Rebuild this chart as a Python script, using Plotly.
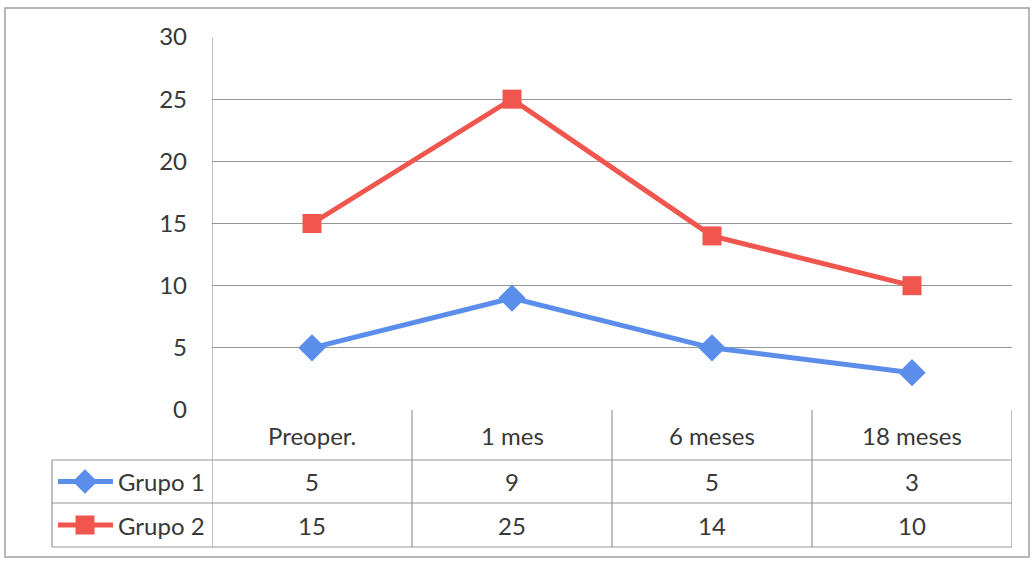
import plotly.graph_objects as go

# Chart data
categories = ["Preoper.", "1 mes", "6 meses", "18 meses"]
series_names = ["Grupo 1", "Grupo 2"]
grupo1 = [5, 9, 5, 3]
grupo2 = [15, 25, 14, 10]
y_ticks = [0, 5, 10, 15, 20, 25, 30]

W, H = 1032, 563
FONT = "Lato"
TXT = "#383838"
GRID = "#969696"
BLUE = "#5b8eea"
RED = "#f0564e"

# plot area in pixels
PL, PR, PT, PB = 212, 1012, 37, 410
# table row boundaries in pixels
R1, R2, R3 = 460, 503, 547
TABLE_LEFT = 52


def px(x):
    return x / W


def py(y):
    return 1 - y / H


fig = go.Figure()

xs = list(range(len(categories)))
fig.add_trace(go.Scatter(
    x=xs, y=grupo1, mode="lines+markers", name=series_names[0],
    line=dict(color=BLUE, width=5),
    marker=dict(symbol="diamond", size=21, color=BLUE),
    xaxis="x", yaxis="y", showlegend=False,
))
fig.add_trace(go.Scatter(
    x=xs, y=grupo2, mode="lines+markers", name=series_names[1],
    line=dict(color=RED, width=5),
    marker=dict(symbol="square", size=19, color=RED),
    xaxis="x", yaxis="y", showlegend=False,
))

# legend keys inside the data table (pixel axes spanning the whole figure)
key_rows = [((R1 + R2) / 2, BLUE, "diamond", 19), ((R2 + R3) / 2, RED, "square", 19)]
for (yc, col, sym, sz) in key_rows:
    fig.add_trace(go.Scatter(
        x=[58, 113], y=[yc, yc], mode="lines", line=dict(color=col, width=5),
        xaxis="x2", yaxis="y2", showlegend=False, hoverinfo="skip",
    ))
    fig.add_trace(go.Scatter(
        x=[85], y=[yc], mode="markers", marker=dict(symbol=sym, size=sz, color=col),
        xaxis="x2", yaxis="y2", showlegend=False, hoverinfo="skip",
    ))

shapes = []
line_style = dict(color=GRID, width=1.2)
# outer chart border
shapes.append(dict(type="rect", xref="paper", yref="paper",
                   x0=px(5), x1=px(1029), y0=py(557), y1=py(8),
                   line=dict(color="#a0a0a0", width=1.5), layer="below"))
# horizontal table lines
for yy in (R1, R2, R3):
    shapes.append(dict(type="line", xref="paper", yref="paper",
                       x0=px(TABLE_LEFT), x1=px(PR), y0=py(yy), y1=py(yy),
                       line=line_style, layer="below"))
# vertical table lines between categories
for i in range(len(categories) + 1):
    xb = i - 0.5
    shapes.append(dict(type="line", xref="x", yref="paper",
                       x0=xb, x1=xb, y0=py(R3), y1=py(PB if i > 0 else PT),
                       line=line_style, layer="below"))
shapes.append(dict(type="line", xref="paper", yref="paper",
                   x0=px(TABLE_LEFT), x1=px(TABLE_LEFT), y0=py(R3), y1=py(R1),
                   line=line_style, layer="below"))

annotations = []
fsz = 24


def cell(x, yc, text, xref="x", xanchor="center"):
    return dict(x=x, y=py(yc), xref=xref, yref="paper", text=text,
                showarrow=False, xanchor=xanchor, yanchor="middle",
                font=dict(family=FONT, size=fsz, color=TXT))


for i, c in enumerate(categories):
    annotations.append(cell(i, (PB + R1) / 2, c))
    annotations.append(cell(i, (R1 + R2) / 2, str(grupo1[i])))
    annotations.append(cell(i, (R2 + R3) / 2, str(grupo2[i])))
for name, yc in zip(series_names, [(R1 + R2) / 2, (R2 + R3) / 2]):
    annotations.append(cell(px(116), yc, name, xref="paper", xanchor="left"))

fig.update_layout(
    width=W, height=H,
    margin=dict(l=0, r=0, t=0, b=0, autoexpand=False),
    paper_bgcolor="white", plot_bgcolor="rgba(0,0,0,0)",
    xaxis=dict(domain=[px(PL), px(PR)], range=[-0.5, len(categories) - 0.5],
               showticklabels=False, showgrid=False, zeroline=False,
               showline=False, fixedrange=True, automargin=False, anchor="y"),
    yaxis=dict(domain=[py(PB), py(PT)], range=[0, 30], tickvals=y_ticks,
               showgrid=True, gridcolor=GRID, gridwidth=1.2, zeroline=False,
               showline=False, ticks="", ticklabelstandoff=24, automargin=False,
               tickfont=dict(family=FONT, size=fsz, color=TXT), fixedrange=True,
               anchor="x"),
    xaxis2=dict(domain=[0, 1], range=[0, W], visible=False, fixedrange=True,
                anchor="y2", automargin=False),
    yaxis2=dict(domain=[0, 1], range=[H, 0], visible=False, fixedrange=True,
                anchor="x2", automargin=False),
    shapes=shapes,
    annotations=annotations,
)

fig.write_html("out.html")
